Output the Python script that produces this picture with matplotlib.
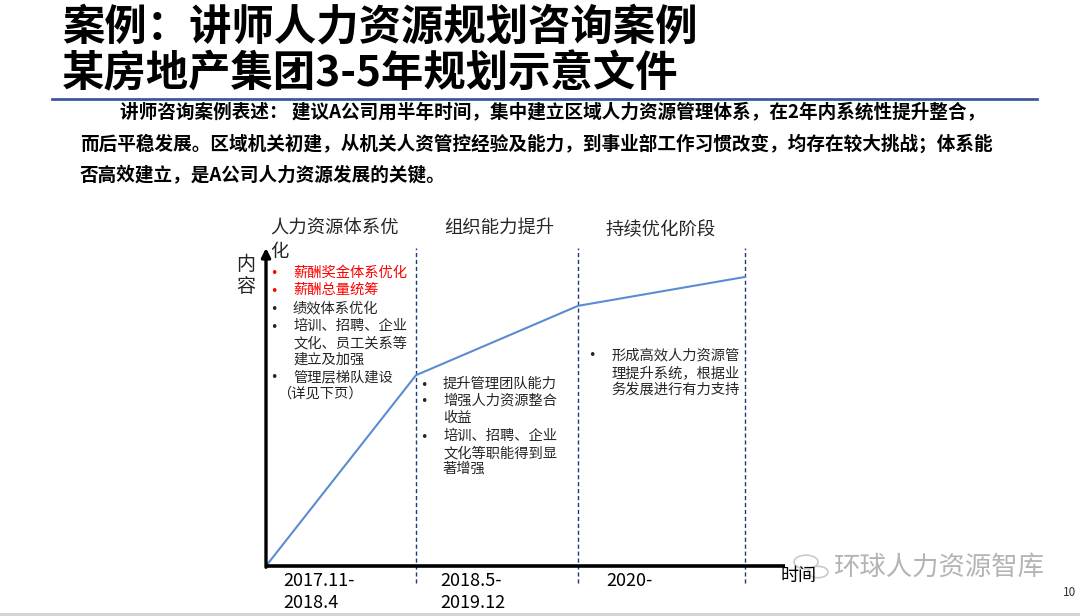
import matplotlib
matplotlib.use("Agg")
import matplotlib.pyplot as plt
from matplotlib.patches import Circle

plt.rcParams['font.family'] = ['Noto Sans CJK SC', 'DejaVu Sans']

# ---------------- data ----------------
title_lines = ["案例：讲师人力资源规划咨询案例", "某房地产集团3-5年规划示意文件"]
desc_lines = [
    "讲师咨询案例表述： 建议A公司用半年时间，集中建立区域人力资源管理体系，在2年内系统性提升整合，",
    "而后平稳发展。区域机关初建，从机关人资管控经验及能力，到事业部工作习惯改变，均存在较大挑战；体系能",
    "否高效建立，是A公司人力资源发展的关键。",
]
stage_names = ["人力资源体系优\n化", "组织能力提升", "持续优化阶段"]
stage_bounds = [0.289, 0.601, 0.923]          # dashed separators (x, data units)
curve_x = [0.0, 0.289, 0.601, 0.923]
curve_y = [0.0, 0.600, 0.818, 0.909]
period_labels = ["2017.11-\n2018.4", "2018.5-\n2019.12", "2020-"]
y_label = "内\n容"
x_label = "时间"

left_items = [
    ("•", "薪酬奖金体系优化", "red"),
    ("•", "薪酬总量统筹", "red"),
    ("•", "绩效体系优化", "#262626"),
    ("•", "培训、招聘、企业", "#262626"),
    ("", "文化、员工关系等", "#262626"),
    ("", "建立及加强", "#262626"),
    ("•", "管理层梯队建设", "#262626"),
]
left_note = "（详见下页）"
mid_items = [
    ("•", "提升管理团队能力"),
    ("•", "增强人力资源整合"),
    ("", "收益"),
    ("•", "培训、招聘、企业"),
    ("", "文化等职能得到显"),
    ("", "著增强"),
]
right_items = [
    ("•", "形成高效人力资源管"),
    ("", "理提升系统，根据业"),
    ("", "务发展进行有力支持"),
]
watermark = "环球人力资源智库"
page_no = "10"

# ---------------- figure ----------------
W, H = 1080, 616
fig = plt.figure(figsize=(W / 100, H / 100), dpi=100)
fig.patch.set_facecolor("white")


def fx(x):
    return x / W


def fy(y):
    return 1 - y / H


def ptext(x, y, s, **kw):
    kw.setdefault("va", "center")
    kw.setdefault("ha", "left")
    return fig.text(fx(x), fy(y), s, **kw)


def bullet(x, y, color):
    ptext(x, y + 1, "•", fontsize=9, color=color, family="DejaVu Sans")


# titles
ptext(62, 27, title_lines[0], fontsize=30.5, fontweight="heavy", color="black")
ptext(62, 74, title_lines[1], fontsize=30.5, fontweight="heavy", color="black")

# header rule
fig.add_artist(plt.Line2D([fx(52), fx(1037)], [fy(99), fy(99)], color="#3c5a9a", lw=2))
# bottom rule
fig.add_artist(plt.Line2D([0, 1], [fy(614), fy(614)], color="#d0d0d0", lw=2))

# description
ptext(120, 112, desc_lines[0], fontsize=13.4, fontweight="bold", color="black")
ptext(80, 144, desc_lines[1], fontsize=13.4, fontweight="bold", color="black")
ptext(80, 176, desc_lines[2], fontsize=13.4, fontweight="bold", color="black")

# ---------------- chart axes ----------------
x0, y0, x1, y1 = 266, 566, 785, 248
ax = fig.add_axes([fx(x0), fy(y0), (x1 - x0) / W, (y0 - y1) / H])
ax.set_xlim(0, 1)
ax.set_ylim(0, 1)
ax.axis("off")

# separators
ax.vlines(stage_bounds, -0.053, 1.0, colors="#1f3a7a", linestyles=(0, (3, 2)),
          lw=1.0, clip_on=False)
# curve
ax.plot(curve_x, curve_y, color="#5b8cd1", lw=1.5, clip_on=False)
# x axis
ax.plot([0, 1], [0, 0], color="black", lw=2.6, clip_on=False, solid_capstyle="butt")
# y axis arrow
ax.annotate("", xy=(0, 1.0), xytext=(0, -0.004),
            arrowprops=dict(arrowstyle="-|>", lw=2.4, color="black", mutation_scale=13,
                            shrinkA=0, shrinkB=0))

# stage names
ptext(270, 229, stage_names[0].split("\n")[0], fontsize=13.2, color="#262626")
ptext(270, 252, stage_names[0].split("\n")[1], fontsize=13.2, color="#262626")
ptext(444, 229, stage_names[1], fontsize=13.2, color="#262626")
ptext(605, 230, stage_names[2], fontsize=13.2, color="#262626")

# y label
ptext(246, 265, y_label.split("\n")[0], fontsize=13.7, color="#262626", ha="center")
ptext(246, 287, y_label.split("\n")[1], fontsize=13.7, color="#262626", ha="center")

# left bullet list
left_y = [273, 290, 308, 326, 343, 360, 377]
for (b, t, c), yy in zip(left_items, left_y):
    if b:
        bullet(270, yy, c)
    ptext(293, yy, t, fontsize=10.3, color=c)
ptext(277, 394, left_note, fontsize=10.3, color="#262626")

# middle list
mid_y = [384, 401, 418, 436, 453, 469]
for (b, t), yy in zip(mid_items, mid_y):
    if b:
        bullet(420, yy, "#262626")
    ptext(443, yy, t, fontsize=10.3, color="#262626")

# right list
right_y = [355, 373, 390]
for (b, t), yy in zip(right_items, right_y):
    if b:
        bullet(588, yy, "#262626")
    ptext(611, yy, t, fontsize=10.3, color="#262626")

# period labels
ptext(283, 581, period_labels[0].split("\n")[0], fontsize=13, color="black")
ptext(283, 603, period_labels[0].split("\n")[1], fontsize=13, color="black")
ptext(440, 581, period_labels[1].split("\n")[0], fontsize=13, color="black")
ptext(440, 603, period_labels[1].split("\n")[1], fontsize=13, color="black")
ptext(606, 581, period_labels[2], fontsize=13, color="black")

# x label
ptext(781, 576, x_label, fontsize=13, color="black")

# watermark
fig.add_artist(Circle((fx(806), fy(562)), 12 / W, transform=fig.transFigure,
                      facecolor="white", edgecolor="#c8c8c8", lw=1.2, alpha=0.95))
fig.add_artist(Circle((fx(818), fy(572)), 10 / W, transform=fig.transFigure,
                      facecolor="white", edgecolor="#c8c8c8", lw=1.2, alpha=0.95))
ptext(833, 567, watermark, fontsize=19, color="#b4b4b4")

# page number
ptext(1063, 592, page_no, fontsize=8.5, color="#333333")

fig.savefig("out.png", dpi=100, facecolor="white")
